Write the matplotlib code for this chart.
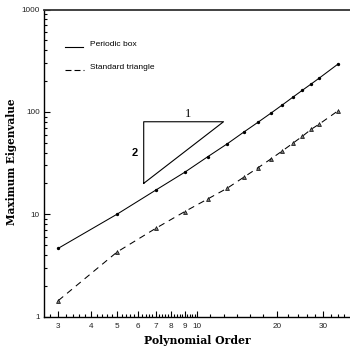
import numpy as np
import matplotlib
matplotlib.use("Agg")
import matplotlib.pyplot as plt
from matplotlib.ticker import FixedLocator, NullFormatter, FixedFormatter
from matplotlib.lines import Line2D

plt.rcParams['lines.scale_dashes'] = False

# ---- data ----
order_box = [3, 5, 7, 9, 11, 13, 15, 17, 19, 21, 23, 25, 27, 29, 34]
eig_box = [4.64, 10.0, 17.2, 25.7, 36.5, 48.6, 63.2, 79.1, 96.9, 116.8, 138.9, 162.6, 187.4, 214.5, 292]

order_tri = [3, 5, 7, 9, 11, 13, 15, 17, 19, 21, 23, 25, 27, 29, 34]
eig_tri = [1.43, 4.27, 7.28, 10.6, 14.1, 17.9, 22.9, 28.4, 34.6, 41.5, 49.3, 57.7, 67.6, 76.2, 102]

slope_x = [6.3, 12.6, 6.3, 6.3]
slope_y = [20, 80, 80, 20]

xmajor = [3, 4, 5, 6, 7, 8, 9, 10, 20, 30]
xmajor_labels = ['3', '4', '5', '6', '7', '8', '9', '10', '20', '30']
ymajor = [1, 10, 100, 1000]
ymajor_labels = ['1', '10', '100', '1000']

legend_labels = ['Periodic box', 'Standard triangle']

# ---- figure ----
W, H = 350, 346
fig = plt.figure(figsize=(W / 100, H / 100), dpi=100)
ax = fig.add_axes([44 / W, (H - 316.5) / H, (W - 44) / W, (316.5 - 9.5) / H])

ax.set_xscale('log')
ax.set_yscale('log')
ax.set_xlim(2.65, 37.8)
ax.set_ylim(1, 1000)

ax.plot(order_box, eig_box, color='black', lw=0.75, marker='o', ms=1.4,
        mfc='black', mec='black')
ax.plot(order_tri, eig_tri, color='black', lw=0.75, dashes=(4.6, 3.6),
        marker='^', ms=2.8, mfc='#777777', mec='black', mew=0.5)

ax.plot(slope_x, slope_y, color='black', lw=0.8)
ax.text(9.3, 84, '1', fontsize=9, family='Liberation Serif', ha='center', va='bottom')
ax.text(5.85, 40, '2', fontsize=8, family='Liberation Sans', weight='bold',
        ha='center', va='center')

# legend drawn manually
tr = fig.transFigure
fig.add_artist(Line2D([65 / W, 83 / W], [1 - 47.3 / H, 1 - 47.3 / H], color='black', lw=0.8, transform=tr))
fig.add_artist(Line2D([65 / W, 84 / W], [1 - 70 / H, 1 - 70 / H], color='black', lw=0.8,
                      dashes=(4.3, 2.2), transform=tr))
fig.text(90 / W, 1 - 44.3 / H, legend_labels[0], fontsize=6, family='Liberation Sans',
         ha='left', va='center')
fig.text(90 / W, 1 - 67.7 / H, legend_labels[1], fontsize=6, family='Liberation Sans',
         ha='left', va='center')

# ticks
xminor = list(np.round(np.arange(2.8, 10.0, 0.2), 1))
xminor = [v for v in xminor if abs(v - round(v)) > 1e-6]
xminor += [10 * 2 ** (k / 6) for k in range(1, 6)]
xminor += [22, 24, 26, 28, 32, 34, 36]
ax.xaxis.set_major_locator(FixedLocator(xmajor))
ax.xaxis.set_major_formatter(FixedFormatter(xmajor_labels))
ax.xaxis.set_minor_locator(FixedLocator(xminor))
ax.xaxis.set_minor_formatter(NullFormatter())

yminor = [m * 10 ** e for e in range(0, 3) for m in range(2, 10)]
ax.yaxis.set_major_locator(FixedLocator(ymajor))
ax.yaxis.set_major_formatter(FixedFormatter(ymajor_labels))
ax.yaxis.set_minor_locator(FixedLocator(yminor))
ax.yaxis.set_minor_formatter(NullFormatter())

ax.tick_params(which='both', direction='in', color='black', width=0.8,
               top=False, right=False)
ax.tick_params(which='major', length=4.0, labelsize=5.9, labelcolor='#222222')
ax.tick_params(which='minor', length=2.0)
ax.tick_params(axis='x', which='major', pad=4.5)
ax.tick_params(axis='y', which='major', pad=3)
for lab in ax.get_xticklabels() + ax.get_yticklabels():
    lab.set_family('Liberation Sans')

ax.spines['right'].set_visible(False)
for s in ['left', 'bottom', 'top']:
    ax.spines[s].set_linewidth(1.0)
ax.spines['top'].set_linewidth(1.3)
ax.spines['top'].set_color('#333333')

fig.text(197.5 / W, 1 - 340 / H, 'Polynomial Order', fontsize=7.8, family='DejaVu Serif',
         weight='bold', ha='center', va='center')
fig.text(11.5 / W, 1 - 162 / H, 'Maximum Eigenvalue', fontsize=7.6, family='DejaVu Serif',
         weight='bold', ha='center', va='center', rotation=90)

fig.savefig('out.png', dpi=100)
